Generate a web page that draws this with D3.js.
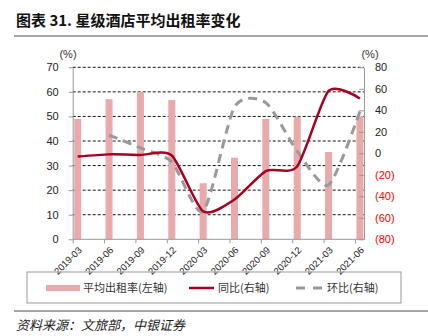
<!DOCTYPE html>
<html><head><meta charset="utf-8">
<script src="https://cdn.jsdelivr.net/npm/d3@7"></script>
<style>
body{margin:0;background:#fff;}
svg{display:block;font-family:"Liberation Sans",Arial,sans-serif;}
.cjk{font-family:"Noto Sans CJK SC",sans-serif;}
</style></head>
<body><svg id="c" width="428" height="336"></svg>
<script>
const categories = ["2019-03","2019-06","2019-09","2019-12","2020-03","2020-06","2020-09","2020-12","2021-03","2021-06"];
const occupancy = [49.0, 57.0, 60.0, 56.7, 22.8, 33.2, 49.0, 49.9, 35.5, 50.2];
const yoy = [-3, -1, -1.5, -2, -54, -43, -16.5, -12, 58, 51];
const qoq = [null, 17, 5, -8, -54, 43, 47, 2, -29.5, 39];
const leftTicks = [0,10,20,30,40,50,60,70];
const rightTicks = [-80,-60,-40,-20,0,20,40,60,80];

const svg = d3.select("#c");
const L = 72.7, R = 364, T = 67.3, B = 239.3;
const step = 31.36;
const x = d3.scalePoint().domain(categories).range([L, L + step*9]);
const y = d3.scaleLinear().domain([0,70]).range([B,T]);
const yR = d3.scaleLinear().domain([-80,80]).range([B,T]);

// title
svg.append("text").attr("class","cjk").attr("x",16).attr("y",26)
  .attr("font-size",15).attr("font-weight","bold").attr("fill","#111")
  .text("图表 31. 星级酒店平均出租率变化");
svg.append("line").attr("x1",14).attr("x2",428).attr("y1",36).attr("y2",36)
  .attr("stroke","#888").attr("stroke-width",1.5);

// units
svg.append("text").attr("x",68).attr("y",58).attr("text-anchor","middle").attr("font-size",11).attr("fill","#333").text("(%)");
svg.append("text").attr("x",370).attr("y",58).attr("text-anchor","middle").attr("font-size",11).attr("fill","#333").text("(%)");

// gridlines
svg.append("g").selectAll("line").data(leftTicks.filter(d=>d>0)).join("line")
  .attr("x1",L).attr("x2",R).attr("y1",d=>y(d)).attr("y2",d=>y(d))
  .attr("stroke","#111").attr("stroke-width",1).attr("stroke-dasharray","3,2");

// bars
svg.append("g").selectAll("rect").data(categories).join("rect")
  .attr("x",d=>x(d)+1.5).attr("width",7)
  .attr("y",(d,i)=>y(occupancy[i])).attr("height",(d,i)=>B-y(occupancy[i]))
  .attr("fill","#E8AAAA");

// left axis
const gl = svg.append("g").attr("transform",`translate(${L},0)`)
  .call(d3.axisLeft(y).tickValues(leftTicks).tickSize(4).tickPadding(10).tickSizeOuter(0));
gl.select(".domain").attr("stroke","#999");
gl.selectAll(".tick line").attr("stroke","#999");
gl.selectAll("text").attr("font-size",11).attr("fill","#222").attr("font-family","Liberation Sans, Arial, sans-serif");

// right axis
const gr = svg.append("g").attr("transform",`translate(${R},0)`)
  .call(d3.axisRight(yR).tickValues(rightTicks).tickSize(-5).tickPadding(11).tickSizeOuter(0)
    .tickFormat(d=> d<0 ? `(${-d})` : `${d}`));
gr.select(".domain").attr("stroke","#999");
gr.selectAll(".tick line").attr("stroke","#999");
gr.selectAll("text").attr("font-size",11).attr("font-family","Liberation Sans, Arial, sans-serif")
  .attr("fill",d=> d<0 ? "#FF0000" : "#222");

// bottom axis
const gb = svg.append("g").attr("transform",`translate(0,${B})`)
  .call(d3.axisBottom(x).tickSize(4).tickSizeOuter(0));
gb.select(".domain").attr("d",`M${L},0H${R}`).attr("stroke","#999");
gb.selectAll(".tick line").attr("stroke","#999");
gb.selectAll("text").attr("font-size",9.5).attr("fill","#222").attr("font-family","Liberation Sans, Arial, sans-serif")
  .attr("text-anchor","end").attr("x",0).attr("y",0).attr("dy","0.35em")
  .attr("transform","translate(7,9) rotate(-45)");

// lines
const px = (c)=> x(c)+5;
const curve = d3.curveCardinal.tension(0.3);
const yoyData = categories.map((c,i)=>({c,v:yoy[i]}));
const qoqData = categories.map((c,i)=>({c,v:qoq[i]})).filter(d=>d.v!==null);
const line = d3.line().x(d=>px(d.c)).y(d=>yR(d.v)).curve(curve);
svg.append("path").datum(qoqData).attr("d",line).attr("fill","none")
  .attr("stroke","#999").attr("stroke-width",3).attr("stroke-dasharray","9,6");
svg.append("path").datum(yoyData).attr("d",line).attr("fill","none")
  .attr("stroke","#A50021").attr("stroke-width",2.5);

// legend
svg.append("rect").attr("x",27).attr("y",272).attr("width",374).attr("height",31)
  .attr("fill","none").attr("stroke","#999").attr("stroke-width",1);
const ly = 288;
svg.append("rect").attr("x",46).attr("y",ly-3).attr("width",34).attr("height",6).attr("fill","#E8AAAA");
svg.append("text").attr("class","cjk").attr("x",83).attr("y",ly).attr("dy","0.35em").attr("font-size",11).attr("fill","#333").text("平均出租率(左轴)");
svg.append("line").attr("x1",189).attr("x2",214).attr("y1",ly).attr("y2",ly).attr("stroke","#A50021").attr("stroke-width",2.5);
svg.append("text").attr("class","cjk").attr("x",218).attr("y",ly).attr("dy","0.35em").attr("font-size",11).attr("fill","#333").text("同比(右轴)");
svg.append("line").attr("x1",296).attr("x2",323).attr("y1",ly).attr("y2",ly).attr("stroke","#999").attr("stroke-width",3).attr("stroke-dasharray","9,8");
svg.append("text").attr("class","cjk").attr("x",327).attr("y",ly).attr("dy","0.35em").attr("font-size",11).attr("fill","#333").text("环比(右轴)");

// source
svg.append("line").attr("x1",14).attr("x2",428).attr("y1",311).attr("y2",311).attr("stroke","#888").attr("stroke-width",1.5);
svg.append("text").attr("class","cjk").attr("x",16).attr("y",330).attr("font-size",13).attr("font-style","italic").attr("fill","#222")
  .text("资料来源：文旅部，中银证券");
</script></body></html>
